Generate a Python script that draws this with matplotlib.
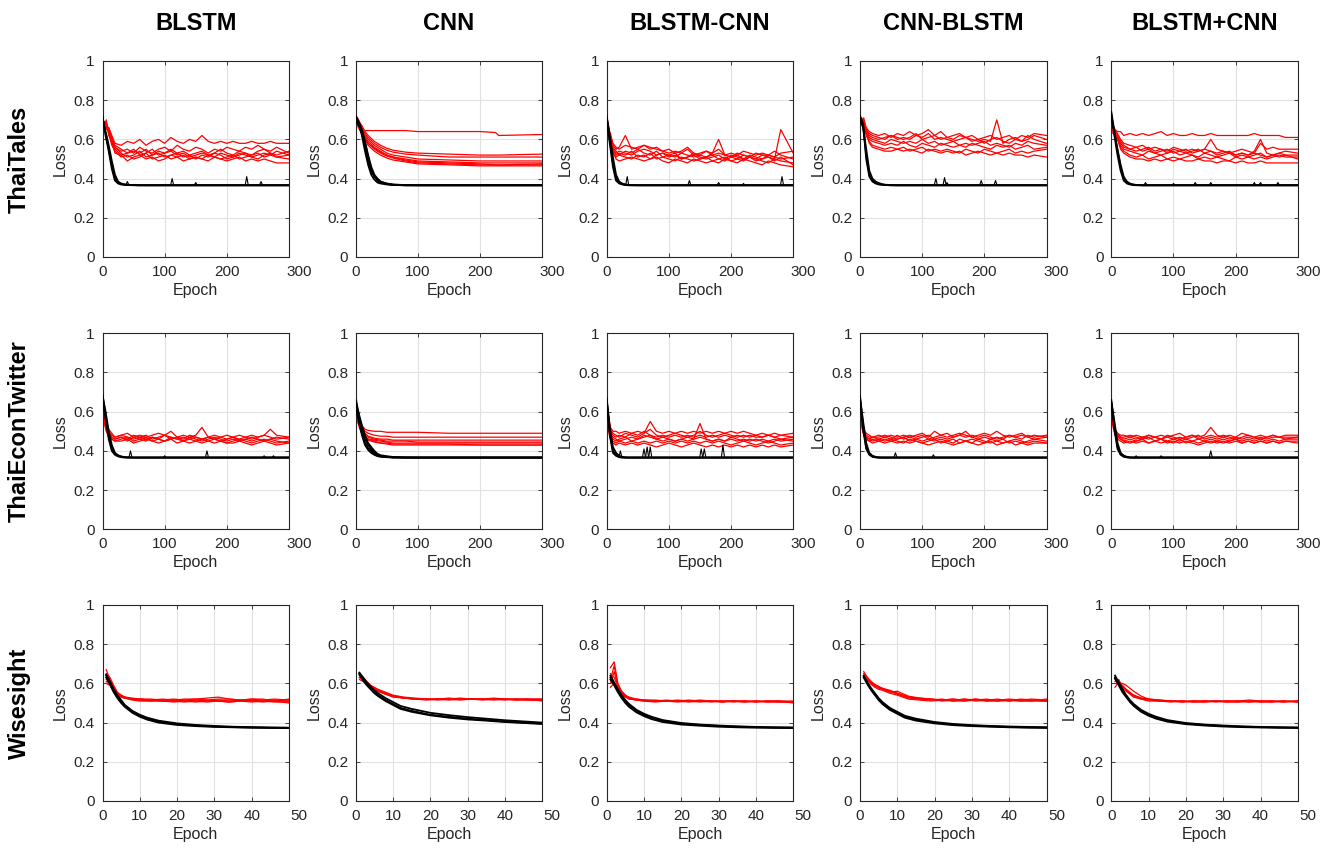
import matplotlib
matplotlib.use("Agg")
import matplotlib.pyplot as plt
import matplotlib.transforms as mtrans

plt.rcParams["font.family"] = ["Liberation Sans", "DejaVu Sans"]

MODELS = ["BLSTM", "CNN", "BLSTM-CNN", "CNN-BLSTM", "BLSTM+CNN"]
DATASETS = ["ThaiTales", "ThaiEconTwitter", "Wisesight"]

# epoch grids the values below were read at
E_LONG = [0, 3, 6, 10, 15, 20] + list(range(30, 290, 10)) + [300]
E_SMOOTH = [0, 3, 6, 10, 15, 20, 30, 40, 50, 60, 80, 100, 150, 200, 225, 230, 300]
E_TRAIN = [0, 5, 10, 15, 20, 25, 30, 35, 40, 50, 60, 80, 100, 300]
E_WS = [1, 2, 3, 4, 5, 6, 8, 10, 13, 16, 19, 22, 25, 28, 31, 34, 37, 40, 43, 46, 50]
E_WS_TRAIN = [1, 2, 3, 4, 5, 6, 8, 10, 12, 15, 20, 25, 30, 35, 40, 45, 50]
PLATEAU = 0.366  # training loss floor, spikes rise from here

# ---------------- ThaiTales ----------------
TT_BLSTM_VAL = [
    [.68,.69,.67,.66,.62,.58,.57,.59,.58,.60,.57,.59,.60,.58,.61,.59,.58,.60,.59,.62,.59,.58,.59,.58,.59,.58,.58,.59,.58,.58,.59,.58,.58],
    [.66,.68,.69,.64,.60,.56,.54,.55,.53,.56,.54,.53,.55,.56,.54,.57,.55,.54,.56,.55,.53,.55,.54,.56,.55,.54,.56,.55,.57,.55,.54,.56,.53],
    [.64,.67,.66,.65,.58,.55,.52,.53,.55,.52,.53,.55,.52,.53,.54,.52,.53,.51,.52,.53,.52,.51,.53,.52,.51,.52,.53,.51,.52,.53,.52,.54,.52],
    [.70,.69,.68,.63,.57,.54,.51,.52,.50,.51,.53,.50,.51,.52,.50,.51,.52,.50,.51,.50,.52,.51,.50,.51,.52,.50,.51,.52,.53,.51,.52,.51,.50],
    [.67,.66,.70,.62,.59,.53,.52,.49,.51,.52,.50,.51,.49,.50,.52,.51,.49,.50,.51,.50,.49,.51,.50,.49,.50,.51,.49,.50,.49,.50,.49,.48,.48],
    [.65,.67,.65,.66,.61,.57,.55,.53,.54,.53,.55,.52,.54,.53,.55,.53,.54,.52,.53,.54,.52,.53,.55,.53,.52,.54,.53,.52,.54,.55,.53,.52,.54],
    [.69,.68,.67,.64,.59,.56,.53,.51,.52,.54,.51,.52,.53,.51,.52,.53,.51,.52,.50,.52,.51,.53,.52,.50,.51,.53,.52,.51,.50,.52,.53,.51,.52],
]
TT_BLSTM_TRN = [
    [.71,.63,.55,.47,.40,.38,.372,.369,.368,.367,.366,.366,.366,.366],
    [.70,.64,.57,.49,.42,.385,.375,.371,.369,.367,.366,.366,.366,.366],
    [.72,.62,.54,.45,.39,.375,.37,.368,.367,.366,.366,.366,.366,.366],
]
TT_BLSTM_SPK = [(40, .385), (112, .40), (150, .38), (232, .41), (255, .385)]

TT_CNN_VAL = [
    [.70,.68,.66,.65,.645,.645,.645,.645,.645,.645,.645,.64,.64,.64,.635,.62,.625],
    [.72,.71,.69,.67,.64,.62,.59,.57,.555,.545,.535,.53,.525,.52,.52,.52,.525],
    [.71,.70,.68,.66,.63,.61,.58,.56,.545,.535,.525,.52,.51,.51,.51,.51,.51],
    [.70,.69,.67,.65,.62,.60,.57,.55,.53,.52,.51,.50,.495,.49,.49,.49,.49],
    [.69,.68,.66,.64,.61,.59,.56,.54,.52,.51,.50,.49,.485,.48,.48,.48,.48],
    [.68,.67,.65,.63,.60,.58,.55,.53,.515,.505,.49,.48,.475,.47,.47,.47,.47],
    [.70,.68,.66,.63,.60,.57,.54,.52,.505,.495,.485,.475,.47,.465,.465,.465,.465],
    [.71,.69,.67,.64,.61,.58,.555,.535,.52,.51,.495,.485,.48,.475,.47,.47,.475],
]
TT_CNN_TRN = [
    [.72,.69,.65,.59,.52,.46,.42,.40,.385,.375,.37,.367,.366,.366],
    [.71,.68,.63,.56,.49,.44,.41,.39,.38,.372,.368,.366,.366,.366],
    [.70,.67,.64,.58,.51,.45,.415,.395,.383,.374,.369,.366,.366,.366],
    [.72,.68,.62,.54,.47,.42,.395,.38,.375,.37,.367,.366,.366,.366],
]
TT_CNN_SPK = []

TT_BC_VAL = [
    [.70,.66,.62,.57,.55,.56,.62,.55,.56,.57,.56,.55,.54,.53,.54,.53,.55,.52,.53,.54,.52,.53,.52,.51,.53,.52,.51,.53,.52,.52,.51,.53,.54],
    [.68,.64,.60,.55,.53,.54,.53,.52,.54,.55,.54,.52,.53,.52,.51,.53,.52,.51,.52,.51,.53,.60,.52,.51,.50,.52,.51,.50,.52,.51,.50,.65,.53],
    [.65,.63,.59,.53,.51,.52,.51,.50,.52,.51,.53,.50,.51,.50,.49,.51,.50,.49,.50,.51,.49,.50,.51,.49,.50,.49,.51,.50,.49,.48,.50,.49,.48],
    [.72,.67,.61,.56,.54,.52,.54,.53,.55,.53,.52,.54,.51,.52,.53,.50,.51,.52,.50,.51,.52,.50,.49,.51,.52,.50,.51,.49,.50,.52,.51,.50,.51],
    [.63,.62,.58,.54,.50,.49,.50,.51,.50,.49,.50,.51,.49,.48,.50,.49,.48,.50,.49,.48,.49,.48,.50,.49,.48,.50,.49,.48,.47,.49,.48,.47,.46],
    [.69,.65,.63,.58,.56,.55,.57,.56,.55,.57,.55,.56,.54,.55,.53,.54,.56,.53,.52,.54,.53,.55,.52,.53,.52,.54,.53,.52,.53,.52,.54,.52,.50],
    [.66,.64,.60,.55,.52,.53,.52,.54,.51,.52,.50,.52,.53,.51,.52,.50,.51,.53,.51,.50,.51,.52,.50,.52,.51,.50,.52,.51,.50,.51,.49,.51,.47],
]
TT_BC_TRN = [
    [.72,.60,.48,.40,.38,.372,.369,.367,.366,.366,.366,.366,.366,.366],
    [.71,.62,.51,.42,.385,.375,.37,.368,.367,.366,.366,.366,.366,.366],
    [.70,.58,.46,.39,.375,.37,.367,.366,.366,.366,.366,.366,.366,.366],
]
TT_BC_SPK = [(33, .41), (133, .39), (180, .38), (220, .375), (282, .41)]

TT_CB_VAL = [
    [.71,.69,.70,.66,.64,.63,.62,.63,.61,.63,.62,.64,.62,.63,.65,.62,.64,.61,.62,.63,.61,.62,.60,.61,.62,.60,.61,.62,.60,.62,.61,.63,.62],
    [.70,.68,.71,.65,.62,.61,.60,.61,.62,.60,.61,.60,.62,.61,.63,.60,.61,.60,.59,.60,.61,.60,.59,.60,.59,.70,.58,.60,.61,.59,.60,.62,.60],
    [.68,.70,.69,.64,.61,.60,.59,.58,.60,.59,.58,.59,.58,.60,.58,.59,.57,.58,.59,.57,.58,.57,.58,.59,.57,.58,.57,.56,.58,.57,.59,.58,.57],
    [.69,.71,.67,.63,.60,.59,.58,.57,.58,.57,.59,.57,.56,.58,.57,.56,.58,.57,.56,.57,.56,.58,.57,.56,.55,.57,.56,.57,.55,.56,.57,.55,.56],
    [.67,.69,.68,.62,.59,.57,.56,.55,.56,.55,.56,.54,.55,.56,.54,.55,.54,.55,.54,.53,.55,.54,.53,.55,.54,.53,.54,.55,.53,.54,.53,.54,.55],
    [.70,.68,.66,.63,.58,.56,.55,.54,.54,.55,.54,.55,.54,.53,.55,.54,.53,.54,.53,.54,.52,.53,.54,.53,.52,.53,.52,.53,.52,.52,.51,.52,.51],
    [.71,.70,.69,.65,.63,.62,.61,.60,.62,.61,.60,.61,.63,.60,.61,.62,.60,.61,.60,.62,.61,.59,.60,.58,.60,.61,.59,.58,.60,.59,.62,.60,.58],
]
TT_CB_TRN = [
    [.71,.67,.52,.42,.39,.38,.375,.37,.368,.366,.366,.366,.366,.366],
    [.70,.66,.55,.44,.40,.385,.378,.372,.369,.367,.366,.366,.366,.366],
    [.72,.68,.50,.41,.385,.375,.37,.368,.367,.366,.366,.366,.366,.366],
]
TT_CB_SPK = [(122, .40), (136, .405), (140, .38), (195, .39), (218, .39)]

TT_BPC_VAL = [
    [.68,.66,.65,.64,.64,.62,.63,.62,.63,.62,.63,.64,.62,.63,.62,.62,.63,.62,.62,.63,.62,.62,.62,.62,.62,.62,.63,.62,.62,.62,.62,.61,.61],
    [.66,.67,.65,.63,.60,.58,.57,.56,.57,.55,.56,.55,.54,.56,.55,.54,.55,.54,.55,.60,.55,.54,.53,.54,.55,.54,.53,.58,.55,.56,.55,.55,.55],
    [.70,.66,.64,.62,.59,.57,.55,.56,.54,.55,.53,.54,.55,.53,.54,.55,.53,.54,.55,.54,.53,.54,.53,.52,.53,.52,.54,.60,.53,.52,.53,.54,.53],
    [.65,.64,.63,.61,.57,.55,.54,.53,.52,.54,.53,.52,.53,.54,.52,.53,.52,.51,.53,.52,.51,.52,.53,.51,.52,.51,.52,.53,.51,.52,.51,.52,.52],
    [.67,.65,.62,.60,.56,.54,.52,.51,.52,.50,.51,.52,.50,.51,.50,.51,.52,.50,.51,.50,.51,.50,.49,.51,.50,.51,.50,.51,.50,.51,.52,.51,.51],
    [.69,.66,.64,.60,.55,.53,.51,.50,.50,.49,.50,.49,.50,.49,.50,.49,.49,.50,.49,.49,.48,.49,.49,.48,.49,.48,.48,.49,.48,.48,.48,.48,.48],
    [.64,.63,.62,.61,.58,.56,.55,.54,.55,.56,.54,.55,.53,.55,.54,.53,.54,.55,.53,.54,.52,.53,.54,.52,.53,.52,.53,.52,.51,.52,.53,.52,.50],
]
TT_BPC_TRN = [
    [.74,.64,.54,.46,.40,.38,.372,.369,.367,.366,.366,.366,.366,.366],
    [.72,.63,.55,.47,.41,.385,.375,.37,.368,.366,.366,.366,.366,.366],
    [.73,.62,.52,.44,.39,.375,.37,.367,.366,.366,.366,.366,.366,.366],
]
TT_BPC_SPK = [(55, .38), (100, .375), (135, .38), (160, .38), (230, .38), (240, .38), (268, .38)]

# ---------------- ThaiEconTwitter ----------------
TE_BLSTM_VAL = [
    [.62,.57,.53,.50,.48,.47,.48,.49,.47,.48,.47,.48,.49,.48,.50,.47,.48,.47,.48,.52,.47,.48,.47,.48,.47,.48,.47,.48,.47,.48,.51,.48,.47],
    [.61,.56,.52,.49,.47,.46,.47,.46,.48,.47,.46,.47,.46,.48,.47,.46,.47,.46,.47,.46,.47,.46,.47,.46,.47,.46,.47,.46,.47,.48,.47,.46,.47],
    [.60,.55,.51,.48,.46,.45,.46,.47,.45,.46,.47,.45,.46,.45,.46,.47,.45,.46,.45,.46,.45,.46,.45,.44,.45,.46,.45,.44,.45,.46,.45,.44,.45],
    [.62,.58,.54,.51,.49,.47,.48,.47,.46,.47,.48,.46,.47,.48,.46,.47,.46,.48,.47,.46,.47,.46,.45,.46,.47,.45,.46,.45,.46,.45,.46,.45,.44],
    [.59,.54,.50,.47,.46,.45,.45,.46,.44,.45,.46,.45,.44,.45,.46,.44,.45,.44,.45,.44,.45,.44,.45,.44,.44,.45,.44,.43,.44,.45,.44,.43,.44],
    [.61,.56,.53,.50,.47,.46,.47,.45,.47,.46,.45,.47,.46,.45,.47,.46,.45,.47,.46,.45,.46,.47,.46,.45,.46,.45,.46,.47,.46,.45,.46,.47,.46],
]
TE_BLSTM_TRN = [
    [.69,.58,.48,.41,.385,.375,.37,.368,.367,.366,.366,.366,.366,.366],
    [.68,.60,.50,.43,.39,.378,.372,.369,.367,.366,.366,.366,.366,.366],
    [.67,.56,.46,.40,.38,.372,.368,.366,.366,.366,.366,.366,.366,.366],
]
TE_BLSTM_SPK = [(45, .40), (100, .375), (168, .40), (260, .375), (275, .375)]

TE_CNN_VAL = [
    [.69,.62,.57,.53,.51,.505,.50,.50,.495,.495,.495,.495,.49,.49,.49,.49,.49],
    [.66,.60,.56,.52,.50,.49,.48,.475,.475,.47,.47,.47,.47,.47,.47,.47,.47],
    [.63,.58,.54,.51,.49,.475,.465,.46,.46,.455,.455,.455,.455,.455,.455,.455,.455],
    [.60,.57,.53,.50,.48,.47,.46,.455,.45,.45,.45,.445,.445,.445,.445,.445,.445],
    [.62,.57,.53,.50,.475,.46,.455,.45,.445,.44,.44,.44,.44,.44,.44,.44,.44],
    [.58,.55,.52,.49,.47,.46,.45,.44,.44,.435,.435,.435,.435,.43,.43,.43,.43],
    [.61,.56,.52,.49,.47,.455,.445,.44,.435,.43,.43,.43,.43,.43,.43,.43,.43],
]
TE_CNN_TRN = [
    [.65,.58,.51,.46,.43,.41,.39,.38,.374,.37,.367,.366,.366,.366],
    [.64,.56,.49,.44,.415,.40,.385,.377,.372,.369,.367,.366,.366,.366],
    [.66,.59,.53,.48,.44,.42,.40,.385,.378,.373,.369,.367,.366,.366],
    [.63,.55,.48,.43,.405,.39,.38,.373,.37,.368,.366,.366,.366,.366],
]
TE_CNN_SPK = []

TE_BC_VAL = [
    [.66,.58,.52,.50,.50,.49,.50,.49,.50,.49,.55,.50,.49,.50,.49,.50,.49,.50,.49,.50,.49,.50,.49,.50,.49,.50,.49,.48,.49,.48,.49,.48,.49],
    [.62,.55,.50,.48,.47,.48,.47,.49,.48,.50,.48,.47,.48,.47,.48,.47,.48,.47,.48,.47,.48,.47,.48,.47,.48,.47,.48,.47,.47,.48,.47,.46,.47],
    [.60,.53,.48,.46,.45,.46,.47,.45,.46,.47,.48,.46,.45,.46,.45,.46,.45,.46,.54,.46,.45,.46,.45,.46,.45,.46,.45,.46,.45,.44,.45,.46,.45],
    [.58,.52,.47,.45,.44,.45,.44,.45,.44,.45,.44,.45,.44,.45,.44,.45,.44,.45,.44,.45,.44,.45,.44,.43,.44,.45,.44,.43,.44,.45,.44,.43,.44],
    [.55,.50,.46,.44,.43,.44,.43,.44,.43,.44,.43,.42,.43,.44,.43,.42,.43,.44,.43,.42,.43,.42,.43,.42,.43,.42,.43,.42,.43,.42,.43,.42,.43],
    [.64,.56,.51,.49,.48,.47,.49,.48,.47,.49,.51,.48,.47,.48,.49,.48,.47,.48,.50,.48,.47,.48,.49,.48,.47,.48,.47,.48,.47,.48,.47,.48,.47],
    [.61,.54,.49,.47,.46,.45,.46,.47,.46,.48,.47,.46,.47,.46,.45,.46,.47,.46,.47,.46,.45,.46,.45,.47,.46,.45,.46,.45,.46,.45,.46,.45,.46],
]
TE_BC_TRN = [
    [.67,.50,.40,.38,.37,.367,.366,.366,.366,.366,.366,.366,.366,.366],
    [.66,.52,.42,.39,.375,.37,.367,.366,.366,.366,.366,.366,.366,.366],
    [.65,.48,.39,.375,.368,.366,.366,.366,.366,.366,.366,.366,.366,.366],
]
TE_BC_SPK = [(22, .40), (60, .41), (65, .42), (70, .42), (152, .41), (157, .41), (187, .43)]

TE_CB_VAL = [
    [.62,.55,.50,.48,.47,.47,.48,.47,.48,.47,.48,.47,.48,.49,.47,.50,.48,.47,.48,.49,.48,.47,.48,.49,.48,.50,.48,.47,.48,.49,.47,.48,.47],
    [.60,.54,.49,.47,.46,.47,.46,.47,.46,.48,.46,.47,.46,.47,.48,.46,.47,.46,.47,.48,.50,.47,.46,.47,.46,.47,.46,.48,.47,.46,.48,.47,.48],
    [.59,.53,.48,.46,.45,.46,.45,.46,.45,.46,.47,.45,.46,.45,.46,.45,.46,.45,.44,.46,.45,.46,.45,.44,.46,.45,.44,.45,.46,.45,.44,.45,.44],
    [.61,.54,.50,.47,.46,.45,.46,.45,.46,.45,.44,.46,.45,.44,.45,.46,.44,.45,.46,.44,.45,.44,.46,.45,.44,.45,.46,.44,.45,.44,.45,.46,.45],
    [.58,.52,.48,.46,.45,.44,.45,.44,.45,.44,.45,.44,.45,.44,.43,.44,.45,.44,.43,.44,.45,.44,.43,.44,.45,.43,.44,.45,.43,.44,.43,.44,.44],
    [.60,.55,.51,.49,.48,.47,.47,.48,.47,.46,.47,.48,.47,.48,.46,.47,.48,.49,.47,.48,.47,.48,.47,.48,.47,.46,.47,.48,.47,.48,.47,.46,.47],
]
TE_CB_TRN = [
    [.68,.53,.42,.385,.372,.368,.366,.366,.366,.366,.366,.366,.366,.366],
    [.67,.55,.44,.39,.375,.37,.367,.366,.366,.366,.366,.366,.366,.366],
    [.66,.51,.41,.38,.37,.367,.366,.366,.366,.366,.366,.366,.366,.366],
]
TE_CB_SPK = [(57, .39), (118, .38)]

TE_BPC_VAL = [
    [.66,.56,.51,.49,.48,.48,.47,.48,.47,.48,.47,.48,.47,.48,.49,.47,.48,.47,.48,.52,.48,.47,.48,.47,.49,.48,.47,.48,.47,.48,.47,.48,.48],
    [.62,.54,.50,.48,.47,.46,.47,.46,.47,.46,.47,.46,.47,.46,.47,.46,.47,.48,.46,.47,.46,.47,.46,.47,.46,.47,.46,.47,.46,.47,.47,.46,.47],
    [.59,.53,.49,.47,.46,.45,.46,.45,.46,.47,.45,.46,.45,.46,.45,.46,.45,.46,.45,.46,.45,.46,.45,.46,.45,.46,.45,.46,.45,.46,.45,.46,.46],
    [.56,.52,.48,.46,.45,.44,.45,.44,.45,.44,.45,.46,.44,.45,.44,.45,.44,.43,.44,.45,.44,.45,.44,.45,.44,.45,.44,.45,.44,.45,.44,.45,.45],
    [.64,.55,.50,.48,.46,.45,.44,.45,.46,.44,.45,.44,.45,.44,.46,.44,.45,.44,.45,.44,.45,.44,.45,.46,.44,.45,.44,.45,.44,.45,.44,.45,.44],
    [.60,.54,.51,.49,.47,.47,.48,.47,.46,.48,.47,.46,.48,.47,.46,.47,.48,.46,.47,.48,.47,.48,.47,.46,.47,.48,.47,.46,.47,.48,.47,.47,.47],
]
TE_BPC_TRN = [
    [.66,.53,.42,.385,.372,.368,.366,.366,.366,.366,.366,.366,.366,.366],
    [.65,.55,.44,.39,.376,.37,.367,.366,.366,.366,.366,.366,.366,.366],
    [.64,.51,.41,.38,.37,.367,.366,.366,.366,.366,.366,.366,.366,.366],
]
TE_BPC_SPK = [(40, .375), (80, .375), (160, .40)]

# ---------------- Wisesight ----------------
WS_BLSTM_VAL = [
    [.67,.62,.58,.55,.54,.53,.525,.52,.52,.515,.52,.515,.52,.515,.52,.52,.515,.52,.515,.52,.515],
    [.62,.61,.57,.54,.53,.525,.52,.515,.51,.515,.51,.515,.51,.515,.51,.51,.515,.51,.51,.515,.51],
    [.60,.59,.56,.545,.535,.53,.52,.52,.515,.52,.515,.52,.52,.525,.53,.52,.515,.52,.52,.51,.52],
    [.64,.60,.57,.55,.53,.525,.515,.51,.51,.51,.505,.51,.505,.51,.51,.505,.51,.505,.51,.505,.505],
    [.65,.63,.59,.555,.54,.53,.52,.52,.515,.51,.515,.51,.515,.51,.515,.51,.51,.515,.51,.51,.51],
    [.61,.60,.575,.55,.535,.525,.52,.515,.515,.51,.51,.505,.51,.505,.51,.505,.51,.51,.505,.51,.50],
]
WS_BLSTM_TRN = [
    [.64,.60,.56,.53,.505,.485,.455,.435,.42,.405,.392,.385,.380,.377,.375,.374,.373],
    [.63,.595,.555,.525,.50,.48,.45,.43,.415,.40,.388,.382,.378,.376,.374,.373,.372],
    [.645,.61,.57,.54,.515,.49,.46,.44,.425,.41,.396,.388,.383,.379,.377,.375,.374],
]
WS_CNN_VAL = [
    [.63,.62,.60,.585,.575,.565,.55,.535,.525,.52,.52,.52,.52,.52,.52,.52,.52,.52,.52,.515,.515],
    [.64,.62,.605,.59,.58,.57,.555,.54,.53,.525,.52,.52,.525,.52,.52,.52,.525,.52,.52,.52,.52],
    [.62,.61,.595,.58,.57,.56,.545,.53,.525,.52,.52,.515,.52,.515,.52,.52,.515,.52,.515,.515,.515],
    [.63,.615,.60,.585,.575,.565,.55,.535,.525,.52,.52,.52,.52,.525,.52,.52,.52,.515,.52,.52,.52],
    [.65,.63,.61,.59,.575,.56,.545,.535,.525,.52,.515,.52,.515,.52,.52,.515,.52,.52,.515,.52,.51],
]
WS_CNN_TRN = [
    [.65,.62,.595,.575,.555,.54,.515,.495,.475,.46,.44,.43,.42,.413,.405,.40,.395],
    [.655,.63,.605,.585,.565,.55,.525,.505,.485,.47,.45,.438,.428,.42,.412,.406,.40],
    [.645,.615,.59,.57,.55,.535,.51,.49,.47,.455,.437,.425,.416,.41,.403,.398,.393],
]
WS_BC_VAL = [
    [.68,.71,.60,.56,.54,.53,.52,.515,.51,.515,.51,.51,.515,.51,.51,.51,.505,.51,.51,.51,.505],
    [.62,.69,.59,.55,.535,.525,.515,.51,.51,.51,.505,.51,.505,.51,.505,.51,.51,.505,.51,.505,.505],
    [.60,.66,.58,.56,.54,.52,.52,.515,.515,.51,.51,.515,.51,.505,.51,.51,.505,.51,.505,.51,.51],
    [.65,.63,.585,.555,.535,.525,.515,.51,.505,.51,.51,.505,.51,.51,.505,.51,.51,.51,.505,.505,.505],
    [.58,.60,.57,.545,.53,.52,.515,.515,.51,.51,.515,.51,.51,.51,.51,.505,.51,.505,.51,.51,.50],
]
WS_BC_TRN = [
    [.63,.60,.565,.535,.51,.49,.46,.44,.425,.41,.395,.388,.383,.379,.377,.375,.374],
    [.62,.59,.555,.525,.50,.48,.452,.433,.418,.403,.39,.384,.379,.376,.374,.373,.372],
    [.64,.605,.57,.54,.515,.495,.465,.445,.43,.413,.398,.39,.385,.381,.378,.376,.375],
]
WS_CB_VAL = [
    [.66,.63,.61,.595,.585,.575,.565,.55,.53,.525,.52,.515,.52,.515,.52,.51,.515,.52,.515,.52,.515],
    [.64,.62,.60,.59,.58,.575,.56,.545,.525,.52,.515,.52,.51,.52,.515,.52,.51,.515,.51,.515,.51],
    [.65,.63,.605,.59,.575,.57,.555,.56,.535,.525,.52,.51,.515,.52,.51,.515,.52,.51,.515,.51,.52],
    [.63,.615,.595,.58,.57,.565,.55,.54,.52,.515,.51,.515,.51,.51,.515,.51,.51,.515,.51,.51,.51],
    [.64,.62,.60,.585,.58,.57,.56,.55,.53,.52,.52,.515,.52,.51,.52,.515,.515,.51,.52,.515,.51],
]
WS_CB_TRN = [
    [.635,.60,.57,.545,.52,.50,.47,.45,.43,.415,.40,.39,.385,.381,.378,.376,.375],
    [.63,.595,.565,.54,.515,.495,.465,.445,.425,.41,.396,.387,.382,.379,.376,.374,.373],
    [.64,.605,.575,.55,.525,.505,.475,.455,.435,.42,.403,.393,.387,.383,.38,.378,.376],
]
WS_BPC_VAL = [
    [.63,.61,.59,.57,.555,.54,.525,.52,.515,.51,.51,.51,.505,.51,.51,.505,.51,.505,.51,.51,.51],
    [.61,.62,.58,.565,.55,.535,.52,.515,.51,.51,.505,.51,.51,.505,.51,.51,.515,.51,.505,.51,.505],
    [.60,.60,.60,.59,.575,.56,.535,.52,.515,.51,.51,.505,.51,.51,.505,.51,.505,.51,.51,.505,.51],
    [.62,.60,.575,.56,.545,.53,.52,.51,.51,.505,.51,.505,.505,.51,.505,.505,.51,.505,.505,.51,.505],
    [.58,.61,.585,.565,.55,.54,.525,.52,.51,.51,.505,.51,.51,.51,.51,.51,.505,.51,.51,.505,.51],
]
WS_BPC_TRN = [
    [.63,.60,.565,.535,.51,.49,.46,.44,.425,.41,.395,.388,.383,.379,.377,.375,.374],
    [.625,.59,.555,.53,.505,.485,.455,.435,.42,.405,.392,.385,.38,.377,.375,.374,.373],
    [.64,.605,.57,.54,.515,.495,.465,.445,.43,.413,.398,.39,.385,.381,.378,.376,.375],
]

# (val grid, val curves, train grid, train curves, spikes) per row/column
PANELS = [
    [(E_LONG, TT_BLSTM_VAL, E_TRAIN, TT_BLSTM_TRN, TT_BLSTM_SPK),
     (E_SMOOTH, TT_CNN_VAL, E_TRAIN, TT_CNN_TRN, TT_CNN_SPK),
     (E_LONG, TT_BC_VAL, E_TRAIN, TT_BC_TRN, TT_BC_SPK),
     (E_LONG, TT_CB_VAL, E_TRAIN, TT_CB_TRN, TT_CB_SPK),
     (E_LONG, TT_BPC_VAL, E_TRAIN, TT_BPC_TRN, TT_BPC_SPK)],
    [(E_LONG, TE_BLSTM_VAL, E_TRAIN, TE_BLSTM_TRN, TE_BLSTM_SPK),
     (E_SMOOTH, TE_CNN_VAL, E_TRAIN, TE_CNN_TRN, TE_CNN_SPK),
     (E_LONG, TE_BC_VAL, E_TRAIN, TE_BC_TRN, TE_BC_SPK),
     (E_LONG, TE_CB_VAL, E_TRAIN, TE_CB_TRN, TE_CB_SPK),
     (E_LONG, TE_BPC_VAL, E_TRAIN, TE_BPC_TRN, TE_BPC_SPK)],
    [(E_WS, WS_BLSTM_VAL, E_WS_TRAIN, WS_BLSTM_TRN, []),
     (E_WS, WS_CNN_VAL, E_WS_TRAIN, WS_CNN_TRN, []),
     (E_WS, WS_BC_VAL, E_WS_TRAIN, WS_BC_TRN, []),
     (E_WS, WS_CB_VAL, E_WS_TRAIN, WS_CB_TRN, []),
     (E_WS, WS_BPC_VAL, E_WS_TRAIN, WS_BPC_TRN, [])],
]

# ------------------------------------------------------------------
W, H = 1337, 849
fig = plt.figure(figsize=(W / 100, H / 100), dpi=100)
lefts = [102.5, 355.7, 606.7, 860, 1111.3]
tops = [61, 333.3, 605]
aw, ah = 186.5, 196
axcol = "0.15"

for r, row in enumerate(PANELS):
    for c, (ev, val, et, trn, spk) in enumerate(row):
        ax = fig.add_axes([lefts[c] / W, 1 - (tops[r] + ah) / H, aw / W, ah / H])
        for v in val:
            ax.plot(ev, v, color=(1, 0, 0), lw=0.9, zorder=2)
        for v in trn:
            ax.plot(et, v, color="k", lw=1.3, zorder=3)
        for e, p in spk:
            ax.plot([e - 2.5, e, e + 2.5], [PLATEAU, p, PLATEAU], color="k", lw=0.8, zorder=3)
        if r < 2:
            ax.set_xlim(0, 300)
            ax.set_xticks([0, 100, 200, 300])
        else:
            ax.set_xlim(0, 50)
            ax.set_xticks([0, 10, 20, 30, 40, 50])
        ax.set_ylim(0, 1)
        ax.set_yticks([0, 0.2, 0.4, 0.6, 0.8, 1])
        ax.set_yticklabels(["0", "0.2", "0.4", "0.6", "0.8", "1"])
        ax.grid(True, color="#e1e1e1", lw=0.8, zorder=0)
        ax.set_axisbelow(True)
        ax.tick_params(direction="in", length=3, width=0.6, top=True, right=True,
                       labelsize=11, colors=axcol, pad=5.5)
        for s in ax.spines.values():
            s.set_color(axcol)
            s.set_linewidth(0.8)
        ax.set_xlabel("Epoch", fontsize=11.5, color=axcol, labelpad=3)
        ax.set_ylabel("Loss", fontsize=11.5, color=axcol, labelpad=4)
        # MATLAB nudges the last x tick label to the right
        last = ax.get_xticklabels()[-1]
        last.set_transform(last.get_transform() +
                           mtrans.ScaledTranslation(0.10, 0, fig.dpi_scale_trans))

for c, name in enumerate(MODELS):
    fig.text((lefts[c] + aw / 2) / W, 1 - 23 / H, name, ha="center", va="center",
             fontsize=17, fontweight="bold")
for r, name in enumerate(DATASETS):
    fig.text(19 / W, 1 - (tops[r] + ah / 2) / H, name, ha="center", va="center",
             rotation=90, fontsize=17, fontweight="bold")

fig.savefig("out.png", dpi=100)
